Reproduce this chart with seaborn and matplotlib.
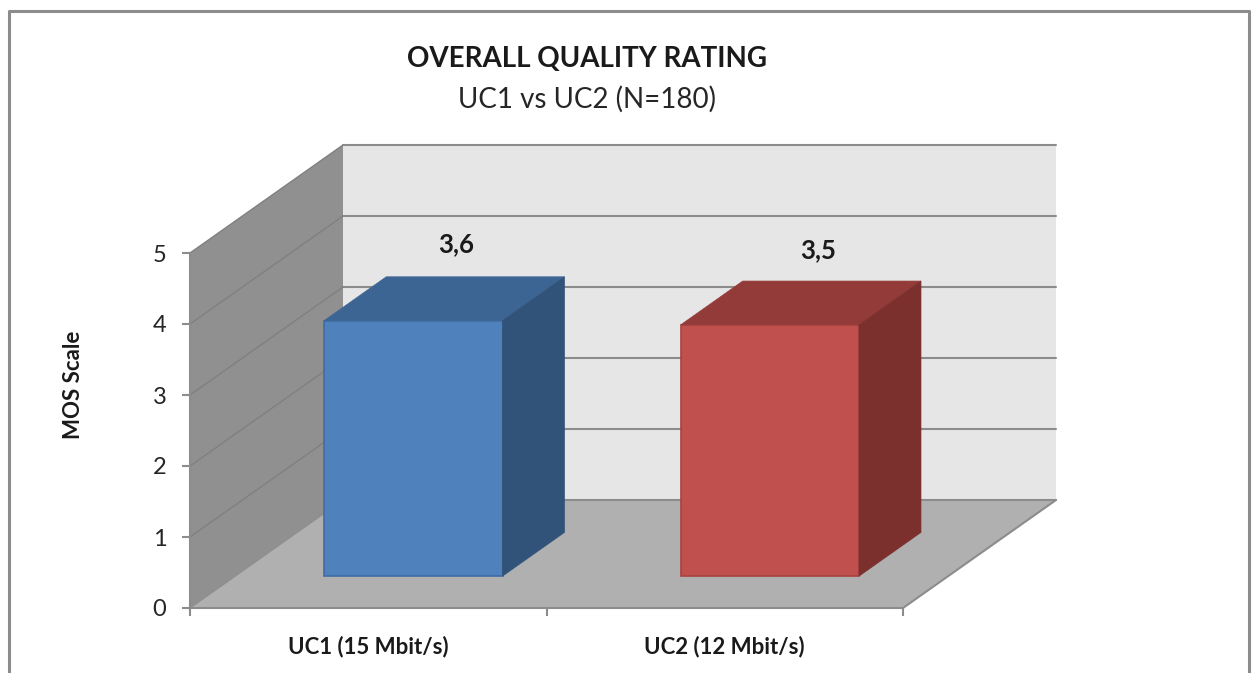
import matplotlib
matplotlib.use("Agg")
import matplotlib.pyplot as plt
import seaborn as sns
from matplotlib.lines import Line2D
from matplotlib.patches import Polygon

categories = ["UC1 (15 Mbit/s)", "UC2 (12 Mbit/s)"]
mos_values = [3.6, 3.54]
y_ticks = [0, 1, 2, 3, 4, 5]
title_main = "OVERALL QUALITY RATING"
title_sub = "UC1 vs UC2 (N=180)"
y_label = "MOS Scale"

W, H = 1255, 673
front_cols = ["#4f81bd", "#c0504d"]
top_cols = ["#3d6594", "#933b39"]
side_cols = ["#325379", "#7b302e"]
edge_cols = ["#3f6ca3", "#a8423f"]
GRID = "#8c8c8c"
TEXT = "#1a1a1a"

sns.set_theme(style="white")
plt.rcParams["font.family"] = ["Lato", "DejaVu Sans"]

fig = plt.figure(figsize=(W / 100, H / 100), dpi=100, facecolor="white")
L, R, T, B = 190, 903, 253, 608
ax = fig.add_axes([L / W, 1 - B / H, (R - L) / W, (B - T) / H])
ax.set_xlim(-0.5, 1.5)
ax.set_ylim(0, 5)
ax.patch.set_visible(False)

px_x = (R - L) / 2.0
px_y = (B - T) / 5.0
DX = 153 / px_x
DY = 108 / px_y
X0, X1 = -0.5, 1.5

ax.add_patch(Polygon([(X0, 0), (X0, 5), (X0 + DX, 5 + DY), (X0 + DX, DY)],
                     fc="#909090", ec="none", clip_on=False, zorder=0))
ax.add_patch(Polygon([(X0 + DX, DY), (X0 + DX, 5 + DY), (X1 + DX, 5 + DY), (X1 + DX, DY)],
                     fc="#e6e6e6", ec="none", clip_on=False, zorder=0))
ax.add_patch(Polygon([(X0, 0), (X0 + DX, DY), (X1 + DX, DY), (X1, 0)],
                     fc="#b0b0b0", ec="none", clip_on=False, zorder=0.5))
for v in y_ticks:
    lw = 1.5 if v else 1.5
    ax.plot([X0 + DX, X1 + DX], [v + DY, v + DY], color=GRID, lw=lw, clip_on=False, zorder=1)
    if v:
        ax.plot([X0, X0 + DX], [v, v + DY], color="#808080", lw=1.0, clip_on=False, zorder=1)
ax.plot([X0, X0 + DX], [0, DY], color="#8f8f8f", lw=1.0, clip_on=False, zorder=1)
ax.plot([X1, X1 + DX], [0, DY], color=GRID, lw=1.5, clip_on=False, zorder=1)

sns.barplot(x=categories, y=mos_values, hue=categories, palette=front_cols, saturation=1,
            width=0.5, legend=False, ax=ax, zorder=3)
ax.set_xlim(-0.5, 1.5)
ax.set_ylim(0, 5)

d0, d1 = 0.295, 0.70
for i, p in enumerate(ax.patches[-2:] if False else [q for q in ax.containers[0]] + [q for q in ax.containers[1]]):
    x, w, h = p.get_x(), p.get_width(), p.get_height()
    x += d0 * DX
    y = d0 * DY
    p.set_x(x)
    p.set_y(y)
    p.set_clip_on(False)
    p.set_edgecolor(edge_cols[i])
    p.set_linewidth(1.2)
    dx = (d1 - d0) * DX
    dy = (d1 - d0) * DY
    ax.add_patch(Polygon([(x, y + h), (x + w, y + h), (x + w + dx, y + h + dy), (x + dx, y + h + dy)],
                         fc=top_cols[i], ec=top_cols[i], lw=0.5, clip_on=False, zorder=3))
    ax.add_patch(Polygon([(x + w, y), (x + w, y + h), (x + w + dx, y + h + dy), (x + w + dx, y + dy)],
                         fc=side_cols[i], ec=side_cols[i], lw=0.5, clip_on=False, zorder=3))

label_dx = [88, 93]
label_dy = [108, 107]
for i, v in enumerate(mos_values):
    ax.annotate(f"{v:.1f}".replace(".", ","), (i, v), xytext=(label_dx[i], label_dy[i]),
                textcoords="offset pixels", ha="center", va="center", fontsize=18.5,
                fontweight="bold", color=TEXT, annotation_clip=False, zorder=5)

for s in ("top", "right"):
    ax.spines[s].set_visible(False)
for s in ("left", "bottom"):
    ax.spines[s].set_color(GRID)
    ax.spines[s].set_linewidth(1.5)
    ax.spines[s].set_zorder(2)

ax.set_yticks(y_ticks)
ax.set_xticks([-0.5, 0.5, 1.5], labels=["", "", ""])
ax.set_xticks([0, 1], labels=categories, minor=True)
ax.tick_params(axis="y", which="major", left=True, length=6, width=1.5, color=GRID,
               labelsize=17, labelcolor="#262626", pad=11)
ax.tick_params(axis="x", which="major", bottom=True, length=6, width=1.5, color=GRID)
ax.tick_params(axis="x", which="minor", bottom=False, length=0, labelsize=16, labelcolor=TEXT, pad=20)
for t in ax.get_xticklabels(minor=True):
    t.set_fontweight("bold")
ax.set_xlabel("")
ax.set_ylabel("")

fig.text(73 / W, 1 - 385 / H, y_label, rotation=90, ha="center", va="center",
         fontsize=16, fontweight="bold", color=TEXT)
fig.text(587 / W, 1 - 59 / H, title_main, ha="center", va="center", fontsize=20,
         fontweight="bold", color=TEXT)
fig.text(587 / W, 1 - 99 / H, title_sub, ha="center", va="center", fontsize=20,
         color="#262626")

bx0, bx1, by0 = 9 / W, 1249 / W, 1 - 10.5 / H
fig.add_artist(Line2D([bx0, bx0, bx1, bx1], [0, by0, by0, 0], color="#8c8c8c", lw=2.2))

fig.savefig("out.png", dpi=100, facecolor="white")
